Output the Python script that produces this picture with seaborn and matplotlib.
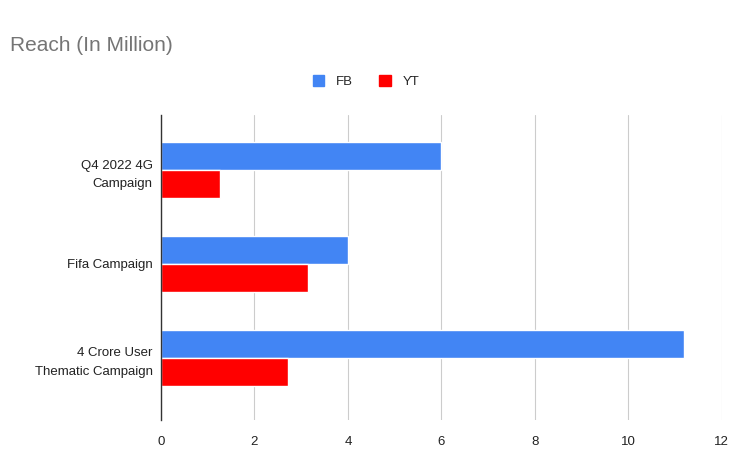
import numpy as np
import pandas as pd
import matplotlib
matplotlib.use("Agg")
import matplotlib.pyplot as plt
import seaborn as sb

# --------------- reach per campaign --------------- #
campaigns = ["Q4 2022 4G\nCampaign", "Fifa Campaign", "4 Crore User\nThematic Campaign"]
fb_reach = [6.0, 4.0, 11.2]
yt_reach = [1.27, 3.15, 2.72]
series = ["FB", "YT"]
colors = ["#4285f4", "#ff0000"]

df = pd.DataFrame({
    "campaign": campaigns * 2,
    "reach": fb_reach + yt_reach,
    "platform": ["FB"] * len(campaigns) + ["YT"] * len(campaigns),
})

sb.set_style("white")
plt.rcParams['font.family'] = ['Liberation Sans', 'DejaVu Sans']

fig = plt.figure(figsize=(7.35, 4.76), dpi=100)
ax = fig.add_axes([0.219, 0.118, 0.763, 0.640])

sb.barplot(data=df, y="campaign", x="reach", hue="platform", order=campaigns,
           hue_order=series, palette=colors, orient="h", width=0.6,
           saturation=1, edgecolor="white", linewidth=1.0, ax=ax, legend=False)

ax.set_xlim(0, 12)
ax.set_xticks(np.arange(0, 13, 2))
ax.set_ylim(2.66, -0.585)
ax.grid(axis="x", color="#cccccc", linewidth=0.8)
ax.set_axisbelow(True)
for s in ["top", "right", "bottom"]:
    ax.spines[s].set_visible(False)
ax.spines["left"].set_color("#333333")
ax.spines["left"].set_linewidth(1.0)
ax.tick_params(axis="both", length=0, labelsize=9.5, colors="#222222")
ax.tick_params(axis="x", pad=12)
ax.tick_params(axis="y", pad=6)
for lbl in ax.get_yticklabels():
    lbl.set_linespacing(1.75)
ax.set_xlabel("")
ax.set_ylabel("")

fig.text(0.014, 0.905, "Reach (In Million)", fontsize=15, color="#757575",
         ha="left", va="center")

handles = [plt.Rectangle((0, 0), 1, 1, color=c) for c in colors]
fig.legend(handles, series, loc="center", bbox_to_anchor=(0.498, 0.828),
           ncol=2, frameon=False, fontsize=9.5, handlelength=0.85,
           handleheight=0.85, columnspacing=2.0, handletextpad=0.9)

fig.savefig("out.png", dpi=100)
